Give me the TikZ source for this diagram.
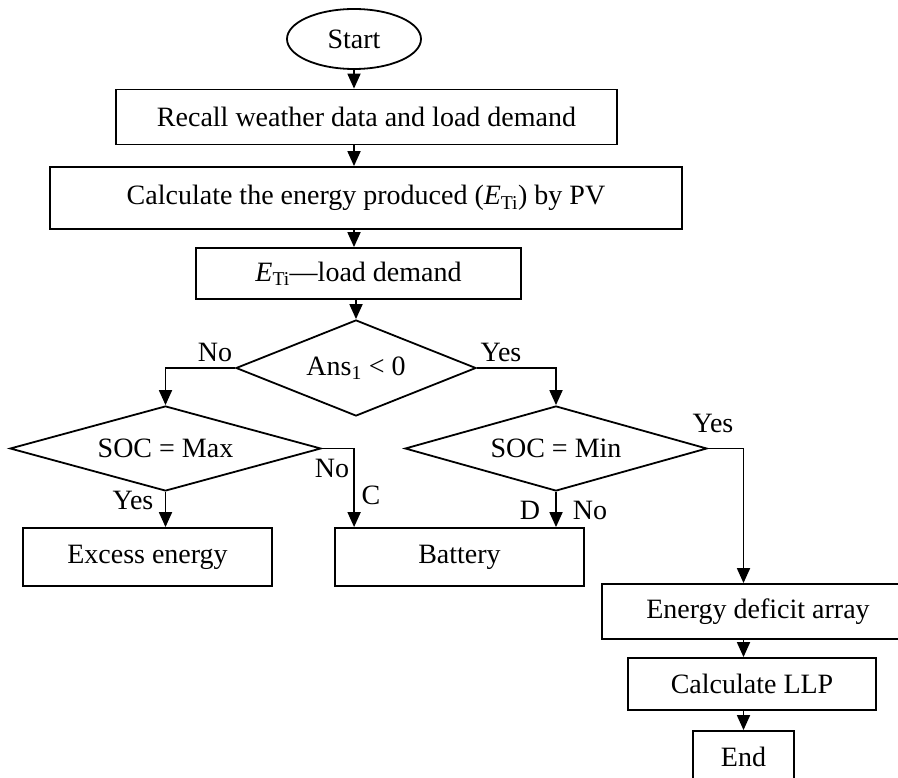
\documentclass[tikz,border=0pt]{standalone}
\usepackage{fontspec}
\setmainfont{Liberation Serif}
\usetikzlibrary{shapes.geometric,arrows.meta}

\begin{document}
\begin{tikzpicture}[x=1pt,y=-1pt,
  every node/.style={font=\fontsize{28}{32}\selectfont},
  box/.style={draw, line width=1.8pt, rectangle, inner sep=0pt},
  dec/.style={draw, line width=1.8pt, diamond, aspect=2.5, inner sep=0pt},
  flow/.style={line width=1.8pt, -{Triangle[length=15pt,width=13pt]}},
  lbl/.style={inner sep=0pt}]
\useasboundingbox (0,0) rectangle (898,778);

% process steps
\node[draw, line width=1.8pt, ellipse, minimum width=134pt, minimum height=60pt, inner sep=0pt] (start) at (354,39) {Start};
\node[box, minimum width=501pt, minimum height=55pt] (recall) at (366.5,117) {Recall weather data and load demand};
\node[box, minimum width=632pt, minimum height=62pt] (calc) at (366,198) {Calculate the energy produced (\textit{E}\textsubscript{Ti}) by PV};
\node[box, minimum width=325pt, minimum height=51pt] (eti) at (358.5,273.5) {\textit{E}\textsubscript{Ti}---load demand};

% decisions
\node[dec, minimum width=240pt, minimum height=96pt] (ans) at (356,368) {Ans\textsubscript{1} < 0};
\node[dec, minimum width=311pt, minimum height=85pt] (socmax) at (165.5,448.5) {SOC = Max};
\node[dec, minimum width=302pt, minimum height=85pt] (socmin) at (556,448.5) {SOC = Min};

% outcomes
\node[box, minimum width=249pt, minimum height=58pt] (excess) at (147.5,557) {Excess energy};
\node[box, minimum width=249pt, minimum height=58pt] (battery) at (459.5,557) {Battery};
\node[box, minimum width=312pt, minimum height=55pt] (deficit) at (758,611.5) {Energy deficit array};
\node[box, minimum width=248pt, minimum height=52pt] (llp) at (752,684) {Calculate LLP};
\node[box, minimum width=101pt, minimum height=52pt] (end) at (743.5,757) {End};

% main trunk
\draw[flow] (start.south) -- (start.south |- recall.north);
\draw[flow] (recall.south -| start.south) -- (calc.north -| start.south);
\draw[flow] (calc.south -| start.south) -- (eti.north -| start.south);
\draw[flow] (eti.south -| ans.north) -- (ans.north);

% branches of the first test
\draw[flow] (ans.west) -| (socmax.north);
\draw[flow] (ans.east) -| (socmin.north);

% branches of the state-of-charge tests
\draw[flow] (socmax.south) -- (socmax.south |- excess.north);
\coordinate (cin) at ([xshift=20pt]battery.north west);
\draw[flow] (socmax.east) -| (cin);
\draw[flow] (socmin.south) -- (socmin.south |- battery.north);
\draw[flow] (socmin.east) -| (deficit.north -| end.north);

% tail of the chart
\draw[flow] (deficit.south -| end.north) -- (llp.north -| end.north);
\draw[flow] (llp.south -| end.north) -- (end.north);

% branch labels
\node[lbl] (l1) at (215,352) {No};
\node[lbl] (l2) at (501,352) {Yes};
\node[lbl] (l3) at (133,500) {Yes};
\node[lbl] (l4) at (332,468) {No};
\node[lbl] (l5) at (371,495) {C};
\node[lbl] (l6) at (530,510) {D};
\node[lbl] (l7) at (590,510) {No};
\node[lbl] (l8) at (713,423) {Yes};
\end{tikzpicture}
\end{document}
